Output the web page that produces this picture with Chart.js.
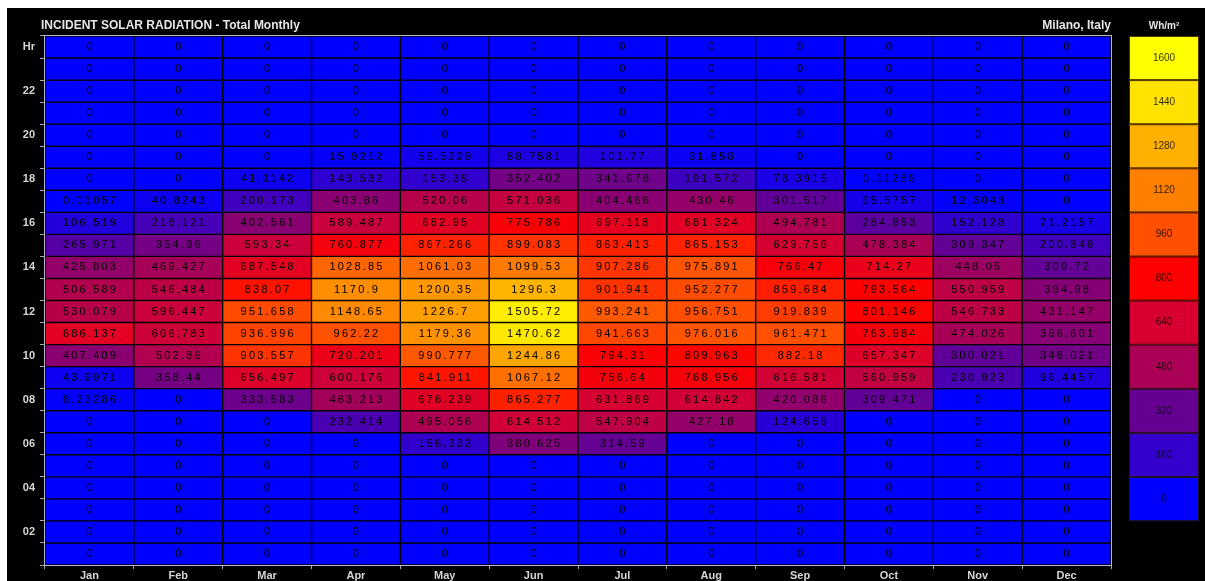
<!DOCTYPE html>
<html><head><meta charset="utf-8">
<script src="https://cdn.jsdelivr.net/npm/chart.js@4.4.0/dist/chart.umd.min.js"></script>
<style>
html,body{margin:0;padding:0;background:#fff;width:1205px;height:581px;overflow:hidden}
#wrap{position:absolute;left:7px;top:8px;width:1198px;height:573px;background:#000}
canvas{display:block}
</style></head><body>
<div id="wrap"><canvas id="c" width="1198" height="573"></canvas></div>
<script>
const chartTitle = 'INCIDENT SOLAR RADIATION - Total Monthly';
const placeName = 'Milano, Italy';
const unitLabel = 'Wh/m\u00B2';
const months = ['Jan','Feb','Mar','Apr','May','Jun','Jul','Aug','Sep','Oct','Nov','Dec'];
// hours, top row to bottom row
const hours = [24,23,22,21,20,19,18,17,16,15,14,13,12,11,10,9,8,7,6,5,4,3,2,1];
const hourLabels = ['Hr','','22','','20','','18','','16','','14','','12','','10','','08','','06','','04','','02',''];

// values per hour (Jan..Dec)
const hr24 = [0,0,0,0,0,0,0,0,0,0,0,0];
const hr23 = [0,0,0,0,0,0,0,0,0,0,0,0];
const hr22 = [0,0,0,0,0,0,0,0,0,0,0,0];
const hr21 = [0,0,0,0,0,0,0,0,0,0,0,0];
const hr20 = [0,0,0,0,0,0,0,0,0,0,0,0];
const hr19 = [0,0,0,15.9212,55.5229,88.7581,101.77,31.858,0,0,0,0];
const hr18 = [0,0,41.1142,143.532,153.35,352.402,341.678,191.572,78.3915,0.11286,0,0];
const hr17 = [0.01057,40.8243,200.173,403.86,520.06,571.036,404.466,430.46,301.517,65.5757,12.3043,0];
const hr16 = [106.519,218.121,402.561,589.487,682.95,775.786,697.118,681.324,494.781,284.853,152.128,71.2157];
const hr15 = [265.971,354.96,593.34,760.877,867.266,899.083,863.413,865.153,629.756,478.384,309.347,200.846];
const hr14 = [425.803,469.427,687.548,1028.85,1061.03,1099.53,907.286,975.891,766.47,714.27,448.05,309.72];
const hr13 = [506.589,546.484,838.07,1170.9,1200.35,1296.3,901.941,952.277,859.684,793.564,550.959,394.98];
const hr12 = [530.079,596.447,951.658,1148.65,1226.7,1505.72,993.241,956.751,919.839,801.146,546.733,431.147];
const hr11 = [686.137,606.783,936.996,962.22,1179.36,1470.62,941.663,976.016,961.471,763.984,474.026,396.601];
const hr10 = [407.409,502.86,903.557,720.201,990.777,1244.86,794.31,809.963,882.18,657.347,300.021,348.021];
const hr09 = [43.9971,358.44,656.497,600.176,841.911,1067.12,756.64,768.956,616.581,560.959,230.923,96.4457];
const hr08 = [8.23286,0,333.583,463.213,676.239,865.277,631.869,614.842,420.086,309.471,0,0];
const hr07 = [0,0,0,232.414,495.056,614.512,547.904,427.18,124.659,0,0,0];
const hr06 = [0,0,0,0,156.332,380.625,314.59,0,0,0,0,0];
const hr05 = [0,0,0,0,0,0,0,0,0,0,0,0];
const hr04 = [0,0,0,0,0,0,0,0,0,0,0,0];
const hr03 = [0,0,0,0,0,0,0,0,0,0,0,0];
const hr02 = [0,0,0,0,0,0,0,0,0,0,0,0];
const hr01 = [0,0,0,0,0,0,0,0,0,0,0,0];
const rows = [hr24,hr23,hr22,hr21,hr20,hr19,hr18,hr17,hr16,hr15,hr14,hr13,hr12,hr11,hr10,hr09,hr08,hr07,hr06,hr05,hr04,hr03,hr02,hr01];

// colour key
const legendValues = [1600,1440,1280,1120,960,800,640,480,320,160,0];
const legendColors = ['#FFFF00','#FFE200','#FFB000','#FF8000','#FF5000','#FF0000','#D80030','#AA0055','#660092','#3300CC','#0000FF'];

function hexToRgb(h){return [parseInt(h.substr(1,2),16),parseInt(h.substr(3,2),16),parseInt(h.substr(5,2),16)];}
function colorFor(v){
  const n = legendValues.length;
  if (v <= legendValues[n-1]) return legendColors[n-1];
  if (v >= legendValues[0]) return legendColors[0];
  for (let i = n-1; i > 0; i--) {
    const lo = legendValues[i], hi = legendValues[i-1];
    if (v >= lo && v <= hi) {
      const t = (v - lo) / (hi - lo);
      const a = hexToRgb(legendColors[i]), b = hexToRgb(legendColors[i-1]);
      const c = a.map((x,k)=>Math.round(x + (b[k]-x)*t));
      return 'rgb(' + c.join(',') + ')';
    }
  }
  return legendColors[n-1];
}

const datasets = rows.map((vals, i) => ({
  label: String(hours[i]),
  data: vals.map(() => [hours[i]-1, hours[i]]),
  backgroundColor: vals.map(colorFor),
  borderColor: '#000',
  borderWidth: 1,
  borderSkipped: false,
  xAxisID: 'x',
  yAxisID: 'y',
  grouped: false,
  barPercentage: 1,
  categoryPercentage: 1
}));

const decor = {
  id: 'decor',
  afterDatasetsDraw(chart) {
    const ctx = chart.ctx;
    const ca = chart.chartArea;
    ctx.save();
    // cell values
    ctx.font = '11px "Liberation Sans", Arial, sans-serif';
    ctx.fillStyle = '#000';
    ctx.textAlign = 'center';
    ctx.textBaseline = 'middle';
    ctx.letterSpacing = '2.2px';
    chart.data.datasets.forEach((ds, d) => {
      const meta = chart.getDatasetMeta(d);
      meta.data.forEach((el, j) => {
        const p = el.getCenterPoint();
        ctx.fillText(String(rows[d][j]), p.x + 1.1, p.y);
      });
    });
    ctx.letterSpacing = '0px';
    // plot border
    ctx.strokeStyle = '#b8b8c4';
    ctx.lineWidth = 1;
    ctx.strokeRect(ca.left - 0.5, ca.top - 0.5, ca.right - ca.left + 1, ca.bottom - ca.top + 1);
    ctx.restore();
  },
  afterDraw(chart) {
    const ctx = chart.ctx;
    const ca = chart.chartArea;
    ctx.save();
    // titles
    ctx.fillStyle = '#e6e6e6';
    ctx.font = 'bold 12px "Liberation Sans", Arial, sans-serif';
    ctx.textBaseline = 'middle';
    ctx.textAlign = 'left';
    ctx.fillText(chartTitle, ca.left - 4, 18);
    ctx.textAlign = 'right';
    ctx.fillText(placeName, ca.right, 18);
    ctx.textAlign = 'center';
    ctx.font = 'bold 10px "Liberation Sans", Arial, sans-serif';
    ctx.fillText(unitLabel, 1157, 18);
    // colour key
    const lx = 1122, lw = 70, top = ca.top, bandH = 44.1;
    legendValues.forEach((v, i) => {
      const y = top + i * bandH;
      ctx.fillStyle = legendColors[i];
      ctx.fillRect(lx, y, lw, bandH);
      ctx.strokeStyle = 'rgba(40,20,0,0.85)';
      ctx.lineWidth = 1;
      ctx.strokeRect(lx + 0.5, y + 0.5, lw - 1, bandH - 1);
      ctx.fillStyle = 'rgba(0,0,0,0.8)';
      ctx.font = '10px "Liberation Sans", Arial, sans-serif';
      ctx.textAlign = 'center';
      ctx.fillText(String(v), lx + lw/2, y + bandH/2);
    });
    ctx.restore();
  }
};

new Chart(document.getElementById('c'), {
  type: 'bar',
  data: { labels: months, datasets },
  options: {
    responsive: false,
    animation: false,
    events: [],
    layout: { padding: { top: 28, right: 94, bottom: 0, left: 0 } },
    plugins: { legend: { display: false }, tooltip: { enabled: false }, title: { display: false } },
    scales: {
      x: {
        type: 'category', labels: months, offset: true, position: 'bottom',
        grid: { display: true, drawOnChartArea: false, drawTicks: true, tickLength: 4, color: '#a8a8b0', offset: true },
        border: { display: false },
        ticks: { color: '#d6d6d6', font: { family: '"Liberation Sans", Arial, sans-serif', size: 11, weight: 'bold' }, padding: 0, maxRotation: 0, autoSkip: false },
        afterFit(s) { s.height = 16; }
      },
      y: { type: 'linear', min: 0, max: 24, display: false },
      yl: {
        type: 'category', labels: hourLabels, position: 'left', offset: true,
        grid: { display: true, drawOnChartArea: false, drawTicks: true, tickLength: 5, color: '#a8a8b0', offset: true },
        border: { display: false },
        ticks: { color: '#d6d6d6', font: { family: '"Liberation Sans", Arial, sans-serif', size: 11, weight: 'bold' }, padding: 5, autoSkip: false },
        afterFit(s) { s.width = 38; }
      }
    }
  },
  plugins: [decor]
});
</script>
</body></html>
